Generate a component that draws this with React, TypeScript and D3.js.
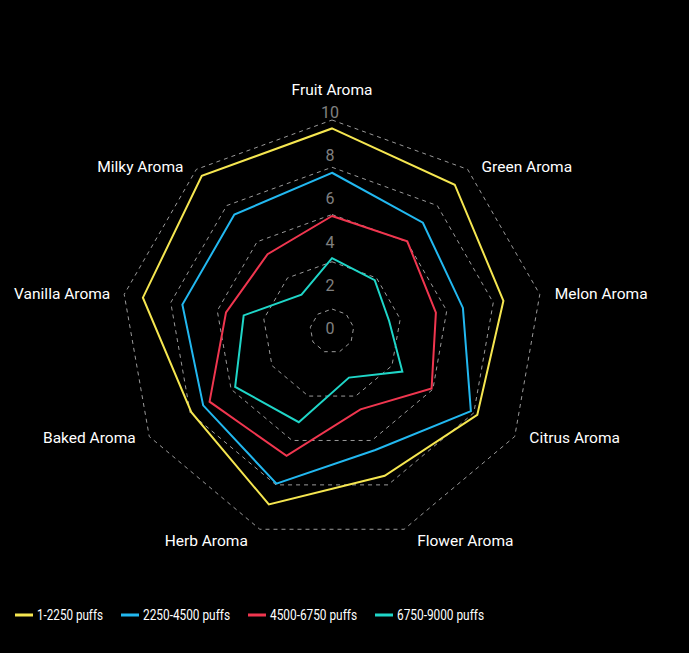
import React, { useEffect, useRef } from "react";
import * as d3 from "d3";

const axes = [
  "Fruit Aroma",
  "Green Aroma",
  "Melon Aroma",
  "Citrus Aroma",
  "Flower Aroma",
  "Herb Aroma",
  "Baked Aroma",
  "Vanilla Aroma",
  "Milky Aroma",
];

const seriesNames = ["1-2250 puffs", "2250-4500 puffs", "4500-6750 puffs", "6750-9000 puffs"];
const seriesColors = ["#f5e650", "#22b8f0", "#f0364f", "#1fd6c8"];

const s1 = [9.6, 9.05, 8.25, 7.95, 7.3, 8.75, 7.7, 9.1, 9.6];
const s2 = [7.5, 6.7, 6.3, 7.6, 6.0, 7.7, 7.05, 7.2, 7.2];
const s3 = [5.45, 5.55, 5.0, 5.45, 3.95, 6.3, 6.7, 5.1, 4.75];
const s4 = [3.45, 3.15, 2.75, 3.85, 2.35, 4.6, 5.3, 4.25, 2.25];
const seriesValues = [s1, s2, s3, s4];

const tickLabels = [0, 2, 4, 6, 8, 10];

const W = 689;
const H = 653;

export default function App() {
  const ref = useRef<SVGSVGElement | null>(null);

  useEffect(() => {
    const svg = d3.select(ref.current);
    svg.selectAll("*").remove();

    const cx = 332;
    const cy = 331;
    const R = 211;
    const font = "Roboto, 'Liberation Sans', sans-serif";

    const rScale = d3.scaleLinear().domain([0, 10]).range([0, R]);
    const tickScale = d3.scaleLinear().domain([0, 10]).range([0, 216]);
    const angle = d3
      .scalePoint<string>()
      .domain(axes)
      .range([0, (2 * Math.PI * (axes.length - 1)) / axes.length]);

    const g = svg.append("g").attr("transform", `translate(${cx},${cy})`);

    // grid rings: 5 evenly spaced rings from inner to outer
    const inner = 22;
    const ringRadii = d3.range(5).map((i) => inner + (i * (R - inner)) / 4);
    const ringLine = d3
      .lineRadial<string>()
      .angle((d) => angle(d) as number)
      .curve(d3.curveLinearClosed);

    ringRadii.forEach((rr) => {
      g.append("path")
        .attr("d", ringLine.radius(() => rr)(axes) as string)
        .attr("fill", "none")
        .attr("stroke", "#9a9a9a")
        .attr("stroke-width", 1)
        .attr("stroke-dasharray", "4,4");
    });

    // tick labels
    g.selectAll("text.tick")
      .data(tickLabels)
      .join("text")
      .attr("class", "tick")
      .attr("x", -2)
      .attr("y", (d) => -tickScale(d) + 3)
      .attr("text-anchor", "middle")
      .attr("fill", "#808080")
      .attr("font-family", font)
      .attr("font-size", 16)
      .text((d) => String(d));

    // series
    const line = d3
      .lineRadial<number>()
      .angle((_, i) => angle(axes[i]) as number)
      .radius((d) => rScale(d))
      .curve(d3.curveLinearClosed);

    seriesValues.forEach((vals, si) => {
      g.append("path")
        .attr("d", line(vals) as string)
        .attr("fill", "none")
        .attr("stroke", seriesColors[si])
        .attr("stroke-width", 2)
        .attr("stroke-linejoin", "miter");
    });

    // axis labels
    const lr = 214;
    axes.forEach((name) => {
      const a = angle(name) as number;
      const s = Math.sin(a);
      const c = Math.cos(a);
      let x = lr * s;
      let y = -lr * c;
      let anchor = "middle";
      if (Math.abs(s) < 0.01) {
        y = y - 27;
      } else if (s > 0) {
        anchor = "start";
        x += 12;
      } else {
        anchor = "end";
        x -= 11;
      }
      if (c < -0.8) y += 9;
      g.append("text")
        .attr("x", x)
        .attr("y", y)
        .attr("text-anchor", anchor)
        .attr("dominant-baseline", "central")
        .attr("fill", "#ffffff")
        .attr("font-family", font)
        .attr("font-size", 15.5)
        .text(name);
    });

    // legend
    const legendTextWidths = [66, 87, 87, 87];
    const leg = svg.append("g").attr("transform", `translate(15,615)`);
    let xpos = 0;
    seriesNames.forEach((n, i) => {
      const item = leg.append("g").attr("transform", `translate(${xpos},0)`);
      item
        .append("line")
        .attr("x1", 0)
        .attr("x2", 18)
        .attr("y1", 0)
        .attr("y2", 0)
        .attr("stroke", seriesColors[i])
        .attr("stroke-width", 3);
      item
        .append("text")
        .attr("x", 22)
        .attr("y", 0)
        .attr("dominant-baseline", "central")
        .attr("fill", "#ffffff")
        .attr("font-family", font)
        .attr("font-size", 15.5)
        .attr("textLength", legendTextWidths[i])
        .attr("lengthAdjust", "spacingAndGlyphs")
        .text(n);
      xpos += 22 + legendTextWidths[i] + 18;
    });
  }, []);

  return (
    <svg
      ref={ref}
      width={W}
      height={H}
      style={{ position: "absolute", left: 0, top: 0, background: "#000", display: "block" }}
    />
  );
}
